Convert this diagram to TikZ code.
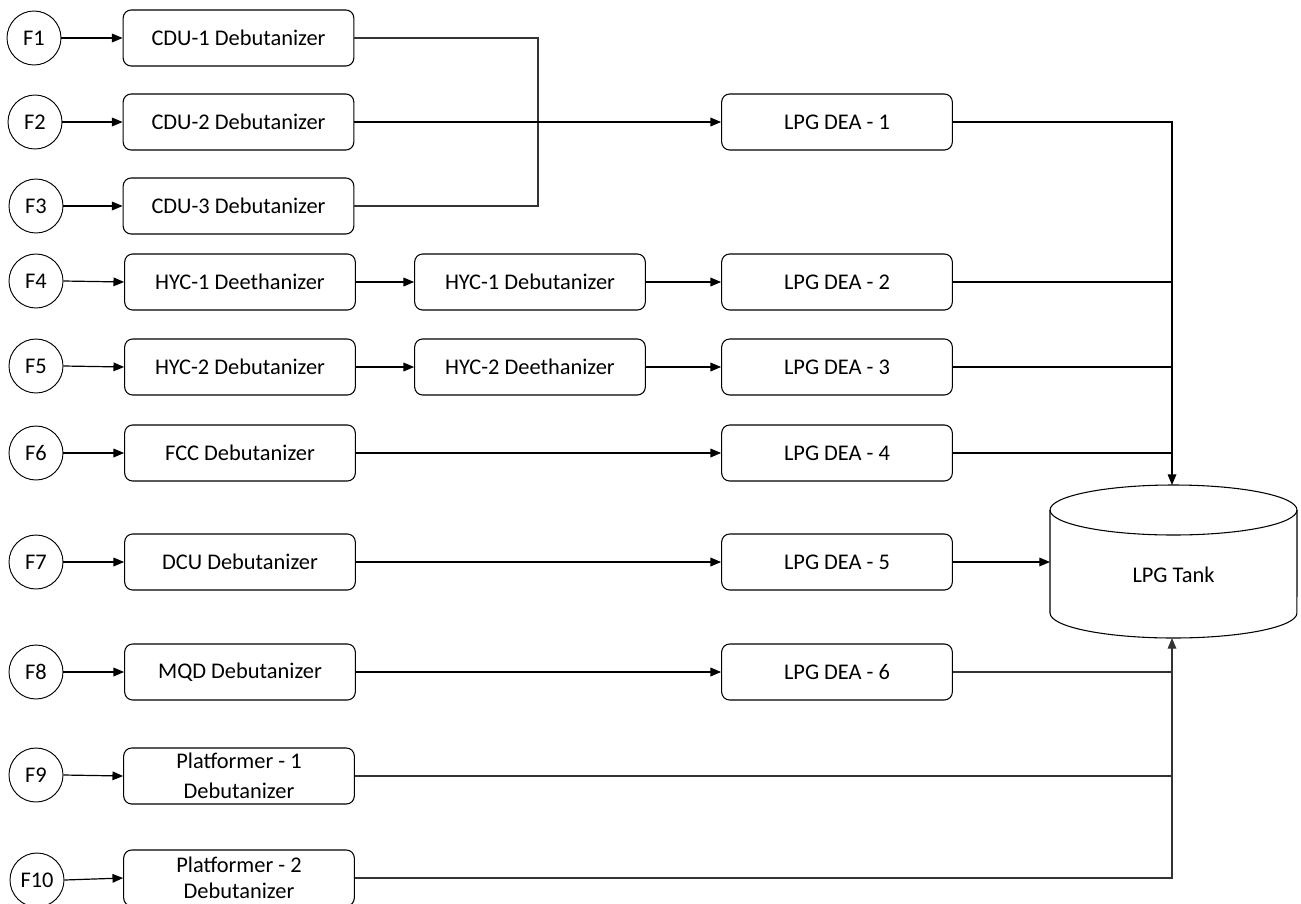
\documentclass[tikz,border=0pt]{standalone}
\usepackage{fontspec}
\setmainfont{Carlito}
\usetikzlibrary{arrows.meta}
\begin{document}
\begin{tikzpicture}[x=0.75pt,y=-0.75pt,
  line width=0.9pt,
  every node/.style={font=\fontsize{16.8}{22.5}\selectfont},
  feed/.style={circle,draw,line width=0.7pt,minimum size=40.5pt,inner sep=0pt},
  proc/.style={draw,line width=0.8pt,rounded corners=6pt,minimum width=173pt,minimum height=42pt,inner sep=1pt,align=center},
  arr/.style={-{Triangle[length=8pt,width=6.5pt]}},
  link/.style={draw=black!80}
]
\useasboundingbox (0,0) rectangle (1301,903);
% feeds
\node[feed] (f1) at (34,38) {F1};
\node[feed] (f2) at (35,122) {F2};
\node[feed] (f3) at (36,206) {F3};
\node[feed] (f4) at (36,281) {F4};
\node[feed] (f5) at (36,366) {F5};
\node[feed] (f6) at (36,453) {F6};
\node[feed] (f7) at (36,562) {F7};
\node[feed] (f8) at (36,672) {F8};
\node[feed] (f9) at (36,775) {F9};
\node[feed] (f10) at (37,880) {F10};
% column 1
\node[proc] (cdu1) at (238.5,38) {CDU-1 Debutanizer};
\node[proc] (cdu2) at (238.5,122) {CDU-2 Debutanizer};
\node[proc] (cdu3) at (238.5,206) {CDU-3 Debutanizer};
\node[proc] (h1a) at (240,282) {HYC-1 Deethanizer};
\node[proc] (h2a) at (240,367) {HYC-2 Debutanizer};
\node[proc] (fcc) at (240,453) {FCC Debutanizer};
\node[proc] (dcu) at (240,562) {DCU Debutanizer};
\node[proc] (mqd) at (240,672) {MQD Debutanizer};
\node[proc] (pf1) at (239,776) {Platformer - 1\\Debutanizer};
\node[proc,font=\fontsize{16.8}{19.5}\selectfont] (pf2) at (239,878) {Platformer - 2\\Debutanizer};
% column 2
\node[proc] (h1b) at (530,282) {HYC-1 Debutanizer};
\node[proc] (h2b) at (530,367) {HYC-2 Deethanizer};
% column 3
\node[proc] (d1) at (837,122) {LPG DEA - 1};
\node[proc] (d2) at (837,282) {LPG DEA - 2};
\node[proc] (d3) at (837,367) {LPG DEA - 3};
\node[proc] (d4) at (837,453) {LPG DEA - 4};
\node[proc] (d5) at (837,562) {LPG DEA - 5};
\node[proc] (d6) at (837,672) {LPG DEA - 6};
% tank
\draw[line width=0.8pt] (1173.5,510) ellipse [x radius=92.6pt, y radius=18.75pt];
\draw[line width=0.8pt] (1050,510) -- (1050,613) arc[start angle=180,end angle=360,x radius=92.6pt,y radius=18.75pt] -- (1297,510);
\node (tank) at (1173.5,575) {LPG Tank};
\coordinate (ttop) at (1172,485);
\coordinate (tbot) at (1172,638);
\coordinate (tleft) at (1050,562);
\coordinate (m) at (538,122);
% feed arrows
\foreach \a/\b in {f1/cdu1,f2/cdu2,f3/cdu3,f4/h1a,f5/h2a,f6/fcc,f7/dcu,f8/mqd,f9/pf1,f10/pf2}
  \draw[arr] (\a.east) -- (\b.west);
% CDU merge
\draw[link] (cdu1.east) -| (m);
\draw[link] (cdu3.east) -| (m);
\draw[arr] (cdu2.east) -- (d1.west);
% HYC chains
\draw[arr] (h1a.east) -- (h1b.west);
\draw[arr] (h1b.east) -- (d2.west);
\draw[arr] (h2a.east) -- (h2b.west);
\draw[arr] (h2b.east) -- (d3.west);
\draw[arr] (fcc.east) -- (d4.west);
\draw[arr] (dcu.east) -- (d5.west);
\draw[arr] (mqd.east) -- (d6.west);
% to tank
\draw[arr] (d1.east) -| (ttop);
\draw (d2.east) -- (d2.east -| ttop);
\draw (d3.east) -- (d3.east -| ttop);
\draw (d4.east) -- (d4.east -| ttop);
\draw[arr] (d5.east) -- (tleft);
\draw[link] (d6.east) -- (d6.east -| tbot);
\draw[link] (pf1.east) -- (pf1.east -| tbot);
\draw[link,arr] (pf2.east) -| (tbot);
\end{tikzpicture}
\end{document}
